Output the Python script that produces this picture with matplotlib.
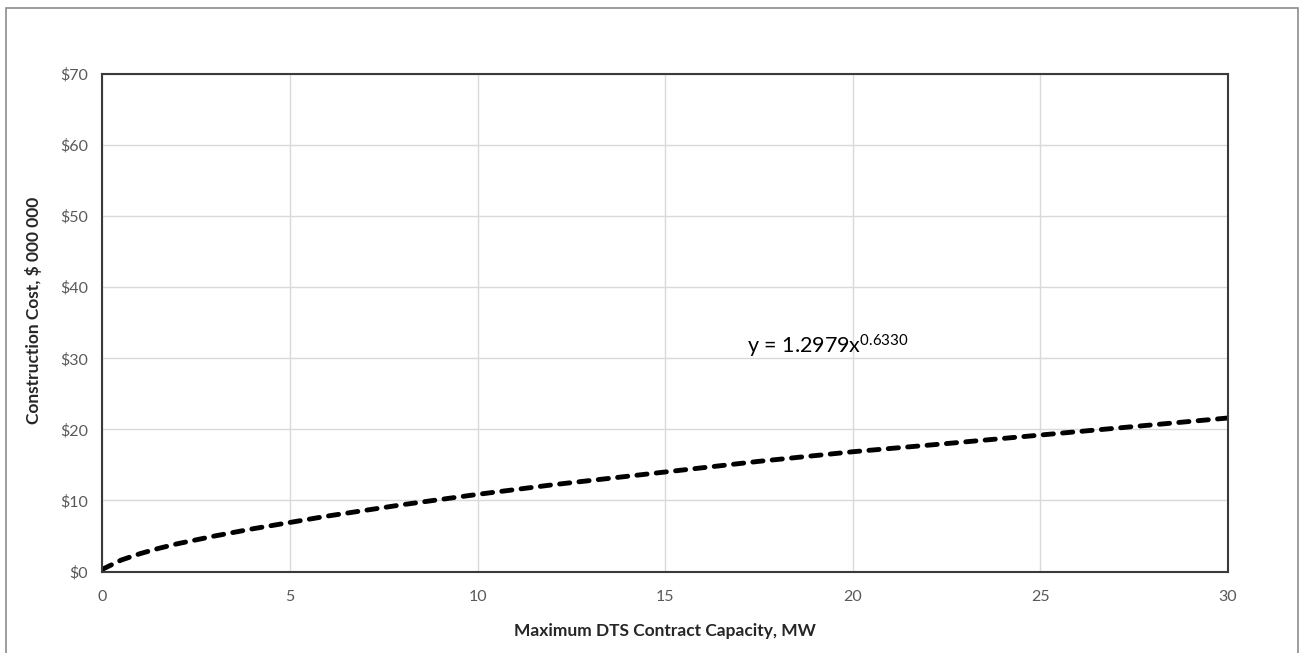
import matplotlib.pyplot as plt
from matplotlib.patches import Rectangle

# values (trendline, $ millions)
capacity_mw = [0, 0.5, 1, 1.5, 2, 3, 4, 5, 6, 8, 10, 12, 15, 17.5, 20, 22.5, 25, 27.5, 30]
cost_musd = [0.3, 1.6, 2.5, 3.25, 3.9, 5.0, 6.0, 6.9, 7.8, 9.4, 10.85, 12.2, 14.0, 15.5,
             16.85, 18.0, 19.2, 20.4, 21.6]
x_ticks = [0, 5, 10, 15, 20, 25, 30]
y_ticks = [0, 10, 20, 30, 40, 50, 60, 70]
equation = "y = 1.2979x$^{0.6330}$"

plt.rcParams['font.family'] = ['Lato', 'DejaVu Sans']
plt.rcParams['mathtext.default'] = 'regular'

fig = plt.figure(figsize=(13.01, 6.53), dpi=100)
ax = fig.add_axes([0.0786, 0.1248, 0.8653, 0.7619])

# outer chart border (bottom edge falls off the image)
fig.patches.append(Rectangle((6 / 1301, -0.05), (1298 - 6) / 1301, 1 - 8 / 653 + 0.05,
                             transform=fig.transFigure, fill=False,
                             edgecolor='#8c8c8c', linewidth=1.2))

line, = ax.plot(capacity_mw, cost_musd, color='black', linewidth=3.5,
                solid_capstyle='round', dash_capstyle='round')
line.set_dashes([2.1, 1.9])

ax.set_xlim(0, 30)
ax.set_ylim(0, 70)
ax.set_xticks(x_ticks)
ax.set_yticks(y_ticks)
ax.set_yticklabels(['$' + str(v) for v in y_ticks])
ax.tick_params(length=0, labelsize=11.5, labelcolor='#595959')
ax.tick_params(axis='x', pad=13)
ax.tick_params(axis='y', pad=10)
ax.grid(True, color='#d9d9d9', linewidth=1.0)
ax.set_axisbelow(True)
for s in ax.spines.values():
    s.set_color('#3a3a3a')
    s.set_linewidth(1.5)

ax.set_xlabel('Maximum DTS Contract Capacity, MW', fontsize=12.5, fontweight='bold',
              color='#262626')
ax.set_ylabel('Construction Cost, $ 000 000', fontsize=12.5, fontweight='bold',
              color='#262626')
ax.xaxis.set_label_coords(0.5, -0.104)
ax.yaxis.set_label_coords(-0.0536, 0.525)

ax.text(17.18, 30.7, equation, fontsize=15.5, color='black', ha='left', va='baseline')

fig.savefig('out.png', dpi=100)
